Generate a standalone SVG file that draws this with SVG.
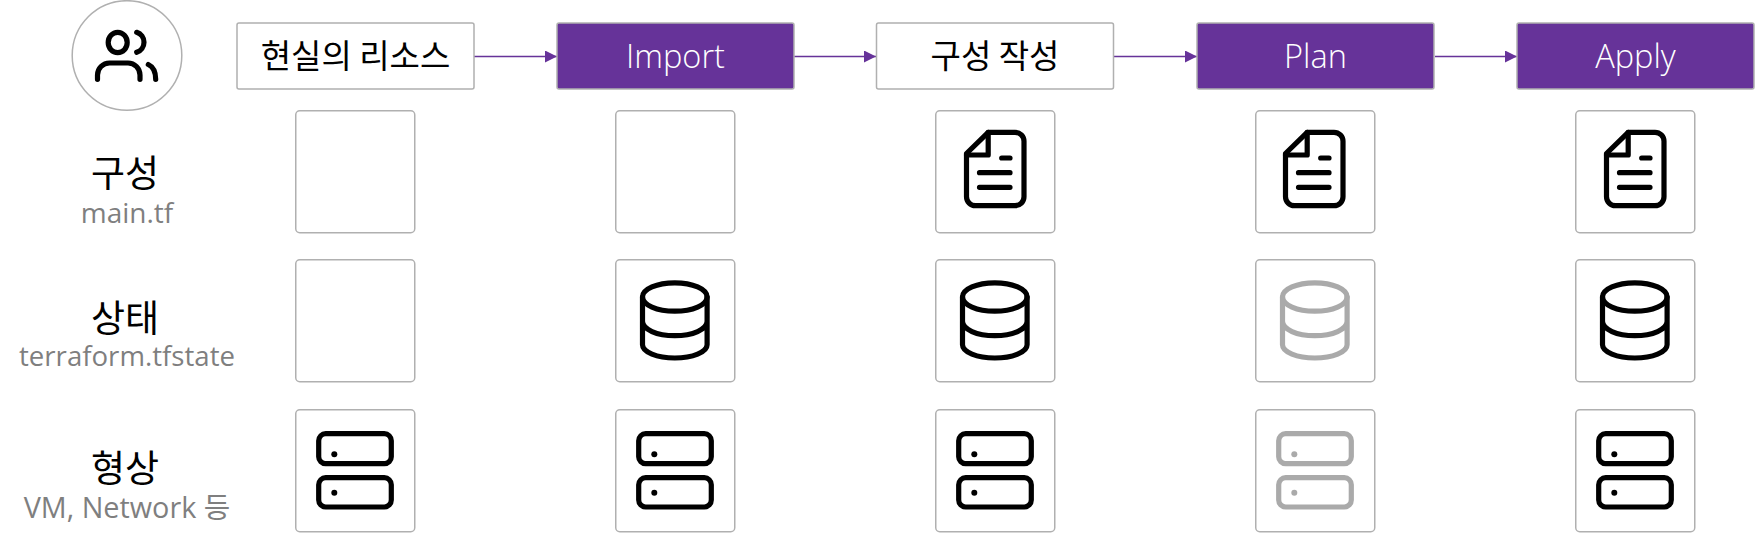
<svg xmlns="http://www.w3.org/2000/svg" width="1756" height="542" viewBox="0 0 1756 542">
<style>
.box{fill:#fff;stroke:#b0b0b0;stroke-width:1.5}
.step{fill:#663399;stroke:#b0b0b0;stroke-width:1.5}
.ic{fill:none;stroke:#000;stroke-width:5.200;stroke-linecap:round;stroke-linejoin:round}
.dim{opacity:.33}
.t{font-family:"Noto Sans CJK KR","Noto Sans",sans-serif;text-anchor:middle}
.h{font-size:33px;fill:#000}
.w{font-family:"Open Sans","Noto Sans CJK KR",sans-serif;font-weight:300;font-size:32.500px;fill:#fff;text-anchor:middle}
.r{font-size:37px;fill:#000}
.s{font-family:"Open Sans","Noto Sans CJK KR",sans-serif;font-size:27.600px;fill:#7f7f7f;text-anchor:middle}
.cn{stroke:#663399;stroke-width:1.300;fill:none;marker-end:url(#a)}
</style>
<defs>
<marker id="a" markerUnits="userSpaceOnUse" markerWidth="13" markerHeight="12" refX="12" refY="6" orient="auto"><path d="M0 0L12 6L0 12Z" fill="#663399"/></marker>
<g id="cell"><rect x=".75" y=".75" width="119" height="122" rx="4" class="box"/></g>
<g id="doc" class="ic"><path d="M31.500 43.500L53.200 22.300H80a9 9 0 0 1 9 9V86.700a9 9 0 0 1 -9 9H40.500a9 9 0 0 1 -9 -9Z"/><path d="M53.200 22.300V45H31.500M66.700 48H75M44.500 62.700H75M44.500 77.300H75"/></g>
<g id="db" class="ic"><ellipse cx="59.800" cy="38" rx="32.300" ry="14.200"/><path d="M27.500 38V85.700C27.500 93 42 99 59.800 99S92.100 93 92.100 85.700V38M27.500 62.300C27.500 70.500 42 76.700 59.800 76.700S92.100 70.500 92.100 62.300"/></g>
<g id="srv"><g class="ic"><rect x="23.700" y="24.700" width="72.600" height="30" rx="7"/><rect x="23.700" y="68.700" width="72.600" height="29.300" rx="7"/></g><circle cx="39.300" cy="45.300" r="3"/><circle cx="39.300" cy="83.700" r="3"/></g>
</defs>
<g id="actor"><circle cx="127" cy="55.500" r="54.800" fill="#fff" stroke="#b0b0b0" stroke-width="1.500"/><g class="ic"><ellipse cx="117.700" cy="42.500" rx="9.500" ry="10.200"/><path d="M136.700 32.300A10.500 10.500 0 0 1 136.700 52.300M97.500 79.300V75a12 12 0 0 1 12 -12H128a12 12 0 0 1 12 12V79.300M148.300 64.500Q155.700 68 155.700 79.300"/></g></g>
<g id="connectors">
<path class="cn" d="M474 56.500H557"/><path class="cn" d="M794 56.500H876"/><path class="cn" d="M1114 56.500H1197"/><path class="cn" d="M1435 56.500H1517"/>
</g>
<g id="step-resource"><rect x="237" y="23" width="237" height="66" rx="2" class="box"/><text class="t h" x="355.500" y="68">현실의 리소스</text></g>
<g id="step-import"><rect x="557" y="23" width="237" height="66" rx="2" class="step"/><text class="w" x="675.500" y="68">Import</text></g>
<g id="step-write"><rect x="876.500" y="23" width="237" height="66" rx="2" class="box"/><text class="t h" x="995" y="68">구성 작성</text></g>
<g id="step-plan"><rect x="1197" y="23" width="237" height="66" rx="2" class="step"/><text class="w" x="1315.500" y="68">Plan</text></g>
<g id="step-apply"><rect x="1517" y="23" width="237" height="66" rx="2" class="step"/><text class="w" x="1635.500" y="68">Apply</text></g>
<g id="label-config"><text class="t r" x="125" y="187">구성</text><text class="s" x="127" y="223" font-size="28" style="font-size:28px">main.tf</text></g>
<g id="label-state"><text class="t r" x="125" y="332">상태</text><text class="s" x="127" y="366">terraform.tfstate</text></g>
<g id="label-shape"><text class="t r" x="125" y="482">형상</text><text class="s" x="127" y="518" style="font-size:28.800px">VM, Network 등</text></g>
<g id="c1-1"><use href="#cell" x="295" y="110"/></g>
<g id="c2-1"><use href="#cell" x="615" y="110"/></g>
<g id="c3-1"><use href="#cell" x="935" y="110"/><use href="#doc" x="935" y="110"/></g>
<g id="c4-1"><use href="#cell" x="1255" y="110"/><use href="#doc" x="1254" y="110"/></g>
<g id="c5-1"><use href="#cell" x="1575" y="110"/><use href="#doc" x="1575" y="110"/></g>
<g id="c1-2"><use href="#cell" x="295" y="259"/></g>
<g id="c2-2"><use href="#cell" x="615" y="259"/><use href="#db" x="615" y="259"/></g>
<g id="c3-2"><use href="#cell" x="935" y="259"/><use href="#db" x="935" y="259"/></g>
<g id="c4-2"><use href="#cell" x="1255" y="259"/><use href="#db" x="1255" y="259" class="dim"/></g>
<g id="c5-2"><use href="#cell" x="1575" y="259"/><use href="#db" x="1575" y="259"/></g>
<g id="c1-3"><use href="#cell" x="295" y="409"/><use href="#srv" x="295" y="409"/></g>
<g id="c2-3"><use href="#cell" x="615" y="409"/><use href="#srv" x="615" y="409"/></g>
<g id="c3-3"><use href="#cell" x="935" y="409"/><use href="#srv" x="935" y="409"/></g>
<g id="c4-3"><use href="#cell" x="1255" y="409"/><use href="#srv" x="1255" y="409" class="dim"/></g>
<g id="c5-3"><use href="#cell" x="1575" y="409"/><use href="#srv" x="1575" y="409"/></g>
</svg>
